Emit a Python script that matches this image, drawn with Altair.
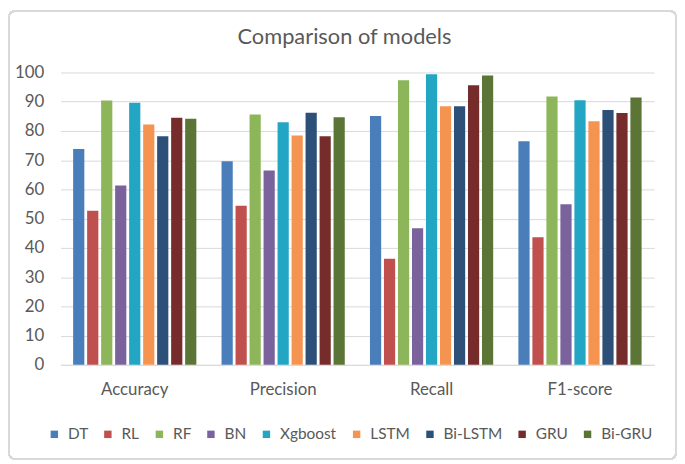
import altair as alt
import pandas as pd

title_text = ["Comparison of models"]
metrics = ["Accuracy", "Precision", "Recall", "F1-score"]
models = ["DT", "RL", "RF", "BN", "Xgboost", "LSTM", "Bi-LSTM", "GRU", "Bi-GRU"]
colors = ["#4A7EBB", "#C0504D", "#8DB65B", "#7A639C", "#23A5C4", "#F59450", "#2C5078", "#772C2C", "#5A7535"]

accuracy = [73.8, 52.7, 90.4, 61.3, 89.6, 82.2, 78.2, 84.5, 84.2]
precision = [69.6, 54.4, 85.6, 66.5, 83.0, 78.4, 86.2, 78.2, 84.7]
recall = [85.1, 36.3, 97.3, 46.7, 99.4, 88.4, 88.4, 95.6, 99.0]
f1 = [76.5, 43.6, 91.8, 54.9, 90.5, 83.3, 87.2, 86.1, 91.4]

rows = []
for m, vals in zip(metrics, [accuracy, precision, recall, f1]):
    for mod, v in zip(models, vals):
        rows.append({"metric": m, "model": mod, "value": v})
df = pd.DataFrame(rows)

FONT = "Lato"
GREY = "#595959"

W, H = 599, 295
PL, PT, PR, PB = 53, 63, 23, 96

bars = alt.Chart(df).mark_bar().encode(
    x=alt.X("metric:N", sort=metrics,
            scale=alt.Scale(paddingInner=0, paddingOuter=0),
            axis=alt.Axis(title=None, labelAngle=0, ticks=False, domainColor="#D9D9D9",
                          labelColor=GREY, labelFontSize=17, labelFont=FONT, labelPadding=17)),
    xOffset=alt.XOffset("model:N", sort=models,
                        scale=alt.Scale(paddingInner=0.2, paddingOuter=0.9)),
    y=alt.Y("value:Q", scale=alt.Scale(domain=[0, 100], nice=False),
            axis=alt.Axis(title=None, values=list(range(0, 101, 10)), ticks=False, domain=False,
                          gridColor="#D9D9D9", labelColor=GREY, labelFontSize=17, labelFont=FONT,
                          labelPadding=17)),
    color=alt.Color("model:N", sort=models,
                    scale=alt.Scale(domain=models, range=colors),
                    legend=alt.Legend(title=None, orient="none", direction="horizontal",
                                      legendX=-14, legendY=357, symbolType="square",
                                      symbolSize=56, symbolStrokeWidth=0, labelFontSize=15.5,
                                      labelFont=FONT, labelColor=GREY, columnPadding=12,
                                      labelOffset=6)),
)

border = alt.Chart(df).mark_rect(fill=None, stroke="#D9D9D9", strokeWidth=1.5,
                                 cornerRadius=6, clip=False).encode(
    x=alt.value(-PL + 1), x2=alt.value(W + PR - 1),
    y=alt.value(-PT + 1), y2=alt.value(H + PB - 1),
)

title = alt.Chart(pd.DataFrame({"t": title_text})).mark_text(
    font=FONT, fontSize=22, color=GREY, align="center", baseline="middle", clip=False
).encode(text="t:N", x=alt.value(286.5), y=alt.value(-36))

chart = alt.layer(border, bars, title).properties(
    width=W, height=H,
    padding={"left": PL, "top": PT, "right": PR, "bottom": PB},
    autosize=alt.AutoSizeParams(type="none"),
).configure_view(stroke=None)

chart.save("out.html", embed_options={"renderer": "svg", "actions": False})
